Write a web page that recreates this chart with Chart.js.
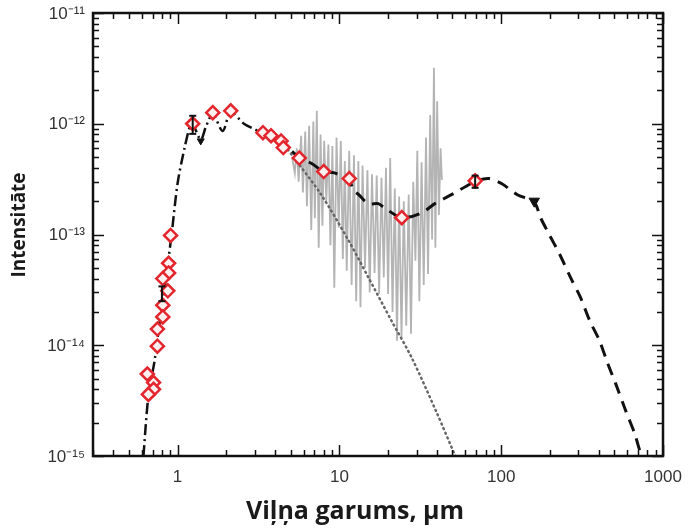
<!DOCTYPE html>
<html>
<head>
<meta charset="utf-8">
<script src="https://cdn.jsdelivr.net/npm/chart.js@4.4.1/dist/chart.umd.min.js"></script>
<style>
  html, body { margin: 0; padding: 0; background: #fff; }
  canvas { display: block; }
</style>
</head>
<body>
<canvas id="sed" width="689" height="528"></canvas>
<script>
// axis ticks
var xTicks = [1, 10, 100, 1000];
var yTicks = [1e-15, 1e-14, 1e-13, 1e-12, 1e-11];

// photometry (red diamonds)
var photWave = [0.905, 0.88, 0.88, 0.81, 0.87, 0.81, 0.81, 0.75, 0.75, 0.65, 0.71, 0.71, 0.66,
  1.24, 1.65, 2.13, 3.37, 3.78, 4.36, 4.5, 5.65, 8.0, 11.5, 24.3, 69];
var photFlux = [9.8e-14, 5.5e-14, 4.5e-14, 4.0e-14, 3.1e-14, 2.3e-14, 1.8e-14, 1.4e-14, 9.8e-15, 5.5e-15, 4.6e-15, 4.0e-15, 3.6e-15,
  1.0e-12, 1.26e-12, 1.31e-12, 8.3e-13, 7.8e-13, 7.0e-13, 6.1e-13, 4.9e-13, 3.7e-13, 3.2e-13, 1.42e-13, 3.05e-13];

// error bars
var errWave = [0.8, 1.24, 69];
var errLo = [2.5e-14, 8.1e-13, 2.64e-13];
var errHi = [3.4e-14, 1.18e-12, 3.4e-13];

// upper limits (black triangles)
var limWave = [1.39, 160];
var limFlux = [7.0e-13, 2.0e-13];

// IR spectrum (grey)
var specWave = [5.10, 5.30, 5.45, 5.60, 5.80, 5.95, 6.15, 6.30, 6.50, 6.70, 6.90, 7.05, 7.25, 7.45, 7.65,
  7.85, 8.05, 8.30, 8.55, 8.80, 9.05, 9.30, 9.60, 9.90, 10.2, 10.5, 10.8, 11.1, 11.5, 11.9, 12.3, 12.7,
  13.1, 13.5, 13.9, 14.4, 14.9, 15.4, 15.9, 16.5, 17.0, 17.6, 18.2, 18.8, 19.4, 20.0, 20.6, 21.3, 22.0,
  22.7, 23.4, 24.2, 25.0, 25.9, 26.8, 27.7, 28.6, 29.5, 30.3, 31.2, 32.2, 33.2, 34.3, 35.3, 36.4, 37.4,
  38.4, 39.2, 40.2, 41.2, 42.2, 43.0];
var specFlux = [5.0e-13, 3.6e-13, 6.0e-13, 3.0e-13, 7.8e-13, 2.4e-13, 8.5e-13, 1.8e-13, 9.6e-13, 1.1e-13,
  1.05e-12, 1.4e-13, 1.31e-12, 7.6e-14, 8.0e-13, 1.2e-13, 7.0e-13, 2.0e-13, 6.5e-13, 8.0e-14, 6.3e-13,
  3.3e-14, 7.5e-13, 1.15e-13, 7.0e-13, 6.0e-14, 4.6e-13, 4.7e-14, 5.7e-13, 3.5e-14, 5.2e-13, 2.5e-14,
  4.6e-13, 2.2e-14, 4.2e-13, 5.0e-14, 3.8e-13, 3.0e-14, 3.5e-13, 4.5e-14, 3.4e-13, 2.9e-14, 3.25e-13,
  4.1e-14, 4.0e-13, 2.9e-14, 4.9e-13, 2.0e-14, 2.6e-13, 1.1e-14, 2.2e-13, 1.17e-14, 2.0e-13, 1.5e-14,
  2.3e-13, 1.27e-14, 3.0e-13, 5.8e-14, 5.7e-13, 2.5e-14, 4.5e-13, 3.5e-14, 7.5e-13, 4.4e-14, 1.2e-12,
  9.0e-14, 3.2e-12, 7.6e-14, 1.6e-12, 1.5e-13, 6.0e-13, 3.1e-13];

// stellar photosphere (dotted)
var starWave = [4.4, 5.26, 7.7, 11.4, 15.1, 21, 28, 40, 52];
var starFlux = [6.9e-13, 4.9e-13, 2.3e-13, 8.8e-14, 4.1e-14, 1.66e-14, 7.7e-15, 2.45e-15, 1.0e-15];

// model, near-IR part (dash-dot)
var nirWave = [0.615, 0.66, 0.72, 0.78, 0.85, 0.92, 1.0, 1.1, 1.2, 1.24, 1.39, 1.5, 1.65, 1.9, 2.13, 2.57, 3.14];
var nirFlux = [1e-15, 3.5e-15, 7.2e-15, 1.73e-14, 4.2e-14, 1.03e-13, 2.9e-13, 5.9e-13, 9.8e-13, 1.0e-12,
  7.2e-13, 9.5e-13, 1.22e-12, 8.6e-13, 1.28e-12, 1.0e-12, 8.6e-13];

// model, mid/far-IR part (dashed)
var firWave = [3.14, 3.4, 4.4, 5.7, 6.7, 8.0, 9.3, 11.5, 12.2, 13.1, 15.1, 17.4, 19, 24.3, 32.3, 38.9, 49.6,
  69, 84, 101, 125, 160, 175, 198, 229, 268, 309, 353, 405, 456, 510, 589, 670, 720, 750];
var firFlux = [8.6e-13, 8.2e-13, 6.8e-13, 4.9e-13, 4.4e-13, 3.7e-13, 3.6e-13, 3.1e-13, 2.5e-13, 2.3e-13,
  1.9e-13, 1.9e-13, 1.74e-13, 1.42e-13, 1.57e-13, 1.9e-13, 2.3e-13, 3.0e-13, 3.2e-13, 2.87e-13, 2.3e-13,
  1.95e-13, 1.42e-13, 1.0e-13, 6.7e-14, 4.1e-14, 2.7e-14, 1.66e-14, 1.1e-14, 6.8e-15, 4.5e-15, 2.55e-15,
  1.58e-15, 1.11e-15, 1e-15];

function pts(xs, ys) {
  return xs.map(function (x, i) { return { x: x, y: ys[i] }; });
}

function errPts() {
  var out = [];
  errWave.forEach(function (x, i) {
    out.push({ x: x, y: errLo[i] }, { x: x, y: errHi[i] }, { x: x, y: null });
  });
  return out;
}

var SUP = { '-': '\u207B', '0': '\u2070', '1': '\u00B9', '2': '\u00B2', '3': '\u00B3', '4': '\u2074',
  '5': '\u2075', '6': '\u2076', '7': '\u2077', '8': '\u2078', '9': '\u2079' };
function powLabel(v) {
  var e = String(Math.round(Math.log10(v)));
  return '10' + e.split('').map(function (c) { return SUP[c]; }).join('');
}

// frame, inward ticks, y tick labels and axis titles
var framePlugin = {
  id: 'frame',
  afterDatasetsDraw: function (chart) {
    var ctx = chart.ctx, a = chart.chartArea;
    var xs = chart.scales.x, ys = chart.scales.y;
    ctx.save();
    ctx.strokeStyle = '#111';
    ctx.lineWidth = 1.5;
    var k, n, v, p, len;
    for (n = -1; n <= 3; n++) {
      for (k = 1; k <= 9; k++) {
        v = k * Math.pow(10, n);
        if (v < xs.min || v > xs.max) continue;
        p = Math.round(xs.getPixelForValue(v)) + 0.5;
        len = k === 1 ? 11 : 6;
        ctx.beginPath();
        ctx.moveTo(p, a.bottom); ctx.lineTo(p, a.bottom - len);
        ctx.moveTo(p, a.top); ctx.lineTo(p, a.top + len);
        ctx.stroke();
      }
    }
    for (n = -15; n <= -11; n++) {
      for (k = 1; k <= 9; k++) {
        v = k * Math.pow(10, n);
        if (v < ys.min * 0.999 || v > ys.max * 1.001) continue;
        p = Math.round(ys.getPixelForValue(v)) + 0.5;
        len = k === 1 ? 11 : 6;
        ctx.beginPath();
        ctx.moveTo(a.left, p); ctx.lineTo(a.left + len, p);
        ctx.moveTo(a.right, p); ctx.lineTo(a.right - len, p);
        ctx.stroke();
      }
    }
    ctx.lineWidth = 2.5;
    ctx.strokeRect(a.left, a.top, a.right - a.left, a.bottom - a.top);

    ctx.fillStyle = '#333';
    ctx.font = '17px "Liberation Sans", Arial, sans-serif';
    ctx.textAlign = 'right';
    ctx.textBaseline = 'middle';
    yTicks.forEach(function (t) {
      ctx.fillText(powLabel(t), a.left - 8, ys.getPixelForValue(t) + 1);
    });

    ctx.fillStyle = '#1a1a1a';
    ctx.font = 'bold 25px "Open Sans", sans-serif';
    ctx.textAlign = 'center';
    ctx.fillText('Viļņa garums, µm', 355, 512);
    ctx.translate(20, 225);
    ctx.rotate(-Math.PI / 2);
    ctx.font = 'bold 19px "Open Sans", sans-serif';
    ctx.fillText('Intensitāte', 0, 0);
    ctx.restore();
  }
};

var tickFont = { family: '"Liberation Sans", Arial, sans-serif', size: 17 };

new Chart(document.getElementById('sed'), {
  type: 'scatter',
  data: {
    datasets: [
      { label: 'limits', data: pts(limWave, limFlux), order: 1, pointStyle: 'triangle', rotation: 180,
        pointRadius: [4, 6], backgroundColor: '#111', borderColor: '#111', borderWidth: 1 },
      { label: 'errors', data: errPts(), order: 2, showLine: true, spanGaps: false,
        borderColor: '#111', borderWidth: 2, pointStyle: 'line', pointRadius: 3.5, pointBorderWidth: 2,
        pointBorderColor: '#111' },
      { label: 'photometry', data: pts(photWave, photFlux), order: 3, pointStyle: 'rectRot',
        pointRadius: 6.5, borderWidth: 2.5, borderColor: '#e3262e', backgroundColor: '#fff0f0' },
      { label: 'model NIR', data: pts(nirWave, nirFlux), order: 4, showLine: true, pointRadius: 0,
        borderColor: '#111', borderWidth: 2.5, borderDash: [11, 4, 2, 4], tension: 0.3 },
      { label: 'model FIR', data: pts(firWave, firFlux), order: 4, showLine: true, pointRadius: 0,
        borderColor: '#111', borderWidth: 3, borderDash: [12, 8], tension: 0.3 },
      { label: 'photosphere', data: pts(starWave, starFlux), order: 5, showLine: true, pointRadius: 0,
        borderColor: '#666', borderWidth: 2.5, borderDash: [1, 4], borderCapStyle: 'round', tension: 0.3 },
      { label: 'spectrum', data: pts(specWave, specFlux), order: 6, showLine: true, pointRadius: 0,
        borderColor: '#b4b4b4', borderWidth: 1.8 }
    ]
  },
  options: {
    responsive: false,
    animation: false,
    layout: { padding: { left: 0, right: 26, top: 13, bottom: 0 } },
    plugins: { legend: { display: false }, tooltip: { enabled: false } },
    scales: {
      x: {
        type: 'logarithmic', min: 0.3, max: 1000,
        afterBuildTicks: function (s) { s.ticks = xTicks.map(function (v) { return { value: v }; }); },
        afterFit: function (s) { s.height = 72; },
        grid: { display: false },
        border: { display: false },
        ticks: { font: tickFont, color: '#333', padding: 3, maxRotation: 0, autoSkip: false,
          callback: function (v) { return String(v); } }
      },
      y: {
        type: 'logarithmic', min: 1e-15, max: 1e-11,
        afterBuildTicks: function (s) { s.ticks = yTicks.map(function (v) { return { value: v }; }); },
        afterFit: function (s) { s.width = 93; },
        grid: { display: false },
        border: { display: false },
        ticks: { display: false }
      }
    }
  },
  plugins: [framePlugin]
});
</script>
</body>
</html>
